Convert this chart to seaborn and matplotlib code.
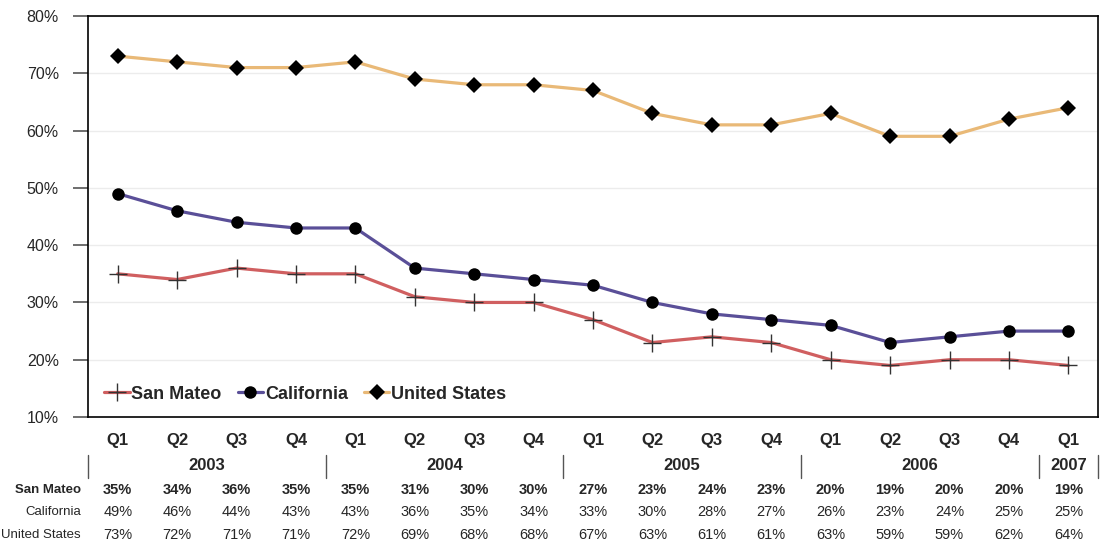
import numpy as np
import pandas as pd
import seaborn as sns
import matplotlib.pyplot as plt
import matplotlib.transforms as mtransforms

sns.set_style("white")
plt.rcParams["font.family"] = ["Liberation Sans", "DejaVu Sans"]

quarters = ["Q1", "Q2", "Q3", "Q4", "Q1", "Q2", "Q3", "Q4", "Q1", "Q2", "Q3", "Q4",
            "Q1", "Q2", "Q3", "Q4", "Q1"]
years = ["2003", "2004", "2005", "2006", "2007"]
year_spans = [(0, 3), (4, 7), (8, 11), (12, 15), (16, 16)]
san_mateo = [35, 34, 36, 35, 35, 31, 30, 30, 27, 23, 24, 23, 20, 19, 20, 20, 19]
california = [49, 46, 44, 43, 43, 36, 35, 34, 33, 30, 28, 27, 26, 23, 24, 25, 25]
united_states = [73, 72, 71, 71, 72, 69, 68, 68, 67, 63, 61, 61, 63, 59, 59, 62, 64]

series = {"San Mateo": san_mateo, "California": california, "United States": united_states}
colors = {"San Mateo": "#d05f60", "California": "#5a4f98", "United States": "#e9b977"}
markers = {"San Mateo": "+", "California": "o", "United States": "D"}
msizes = {"San Mateo": 13, "California": 9, "United States": 8}

rows = []
for name, vals in series.items():
    for i, v in enumerate(vals):
        rows.append({"idx": i, "value": v, "series": name})
df = pd.DataFrame(rows)

fig = plt.figure(figsize=(11.04, 5.43), dpi=100)
ax = fig.add_axes([0.0797, 0.232, 0.9149, 0.7385])

for name in series:
    d = df[df["series"] == name]
    sns.lineplot(data=d, x="idx", y="value", ax=ax, color=colors[name], linewidth=2.3,
                 marker=markers[name], markersize=msizes[name], markerfacecolor="black",
                 markeredgecolor="black" if name != "San Mateo" else "#333333",
                 markeredgewidth=1.0 if name == "San Mateo" else 0,
                 label=name)

ax.set_xlim(-0.5, 16.5)
ax.set_ylim(10, 80)
ax.set_yticks(range(10, 81, 10))
ax.set_yticklabels([f"{t}%" for t in range(10, 81, 10)], fontsize=11.5)
ax.set_xticks([])
ax.set_xlabel("")
ax.set_ylabel("")
ax.yaxis.grid(True, color="#ececec", linewidth=1)
ax.set_axisbelow(True)
ax.tick_params(axis="y", direction="out", length=11, width=1.2, color="#555555", pad=10, left=True)
for sp in ax.spines.values():
    sp.set_color("black")
    sp.set_linewidth(1.2)
    sp.set_visible(True)

leg = ax.legend(loc="lower left", bbox_to_anchor=(0.0, -0.005), ncol=3, frameon=False,
                handlelength=1.4, handletextpad=0.1, columnspacing=0.9,
                prop={"weight": "bold", "size": 13})

# table under the plot
trans = mtransforms.blended_transform_factory(ax.transData, fig.transFigure)
for i, q in enumerate(quarters):
    ax.text(i, 1 - 441 / 543, q, transform=trans, ha="center", va="center",
            fontsize=12, fontweight="bold", clip_on=False)
for yr, (a, b) in zip(years, year_spans):
    ax.text((a + b) / 2, 1 - 466 / 543, yr, transform=trans, ha="center", va="center",
            fontsize=12, fontweight="bold", clip_on=False)
for xs in [-0.5, 3.5, 7.5, 11.5, 15.5, 16.5]:
    ax.plot([xs, xs], [1 - 455 / 543, 1 - 478 / 543], transform=trans, color="#555555",
            linewidth=1, clip_on=False)

row_y = {"San Mateo": 490, "California": 512, "United States": 535}
for name, vals in series.items():
    bold = "bold" if name == "San Mateo" else "normal"
    fig.text(81 / 1104, 1 - row_y[name] / 543, name, ha="right", va="center",
             fontsize=9.5, fontweight=bold)
    for i, v in enumerate(vals):
        ax.text(i, 1 - row_y[name] / 543, f"{v}%", transform=trans, ha="center",
                va="center", fontsize=10.5, fontweight=bold, clip_on=False)

fig.savefig("out.png", dpi=100)
